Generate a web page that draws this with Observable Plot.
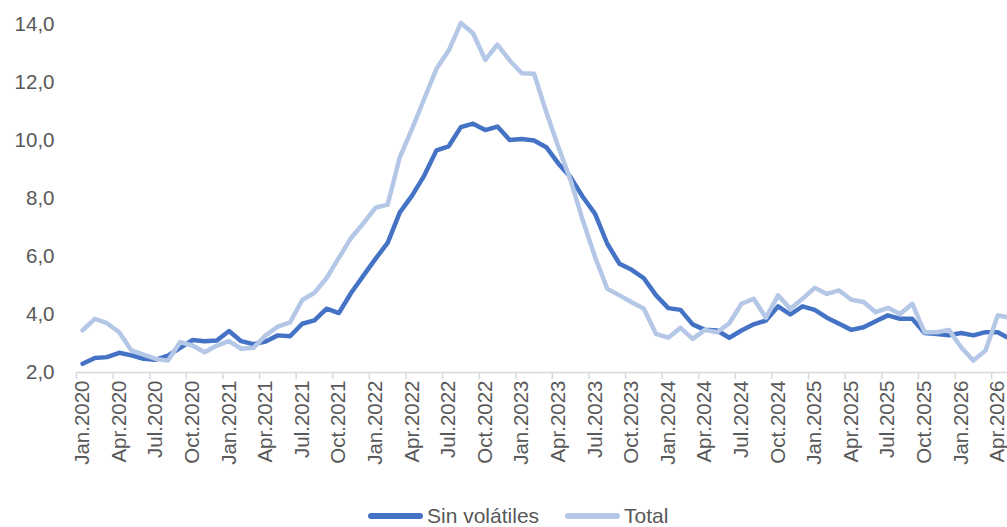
<!DOCTYPE html>
<html>
<head>
<meta charset="utf-8">
<script src="https://cdn.jsdelivr.net/npm/d3@7"></script>
<script src="https://cdn.jsdelivr.net/npm/@observablehq/plot@0.6"></script>
<style>
  html, body { margin: 0; padding: 0; background: #fff; }
  body { width: 1007px; height: 527px; overflow: hidden; position: relative; font-family: "Liberation Sans", Arial, sans-serif; }
  #chart { width: 1007px; overflow: hidden; }
  #legend { position: absolute; left: 368px; top: 504px; display: flex; align-items: center; color: #595959; font-size: 21px; }
  .sw { width: 55px; height: 6px; border-radius: 3px; margin-right: 4px; }
  .item { display: flex; align-items: center; margin-right: 26px; }
</style>
</head>
<body>
<div id="chart"></div>
<div id="legend"></div>
<script>
// Tick labels (one every 3 months, Jan.2020 .. Apr.2026)
const xTickLabels = ["Jan.2020","Apr.2020","Jul.2020","Oct.2020","Jan.2021","Apr.2021","Jul.2021","Oct.2021",
  "Jan.2022","Apr.2022","Jul.2022","Oct.2022","Jan.2023","Apr.2023","Jul.2023","Oct.2023",
  "Jan.2024","Apr.2024","Jul.2024","Oct.2024","Jan.2025","Apr.2025","Jul.2025","Oct.2025",
  "Jan.2026","Apr.2026"];
const yTicks = [2, 4, 6, 8, 10, 12, 14];
const seriesNames = ["Sin volátiles", "Total"];
const seriesColors = ["#4472C4", "#B4C7E7"];

// Monthly values, Jan.2020 .. May.2026
const sinVolatiles = [2.3,2.5,2.53,2.68,2.59,2.47,2.44,2.58,2.85,3.12,3.08,3.1,
  3.43,3.08,2.98,3.07,3.28,3.25,3.68,3.8,4.2,4.05,4.74,5.33,
  5.92,6.47,7.52,8.1,8.79,9.66,9.8,10.46,10.58,10.36,10.48,10.02,
  10.05,10.0,9.77,9.2,8.73,8.05,7.47,6.44,5.75,5.54,5.25,4.66,
  4.22,4.16,3.66,3.47,3.45,3.2,3.45,3.66,3.79,4.28,4.0,4.28,
  4.16,3.89,3.68,3.47,3.56,3.77,3.97,3.85,3.85,3.36,3.33,3.28,
  3.36,3.28,3.39,3.39,3.16];
const total = [3.45,3.85,3.7,3.39,2.76,2.62,2.47,2.41,3.05,2.93,2.7,2.93,
  3.08,2.82,2.85,3.28,3.58,3.73,4.5,4.75,5.26,5.95,6.64,7.14,
  7.68,7.79,9.43,10.4,11.44,12.47,13.1,14.05,13.7,12.78,13.31,12.76,
  12.32,12.3,10.98,9.77,8.62,7.24,5.98,4.89,4.66,4.42,4.2,3.33,
  3.2,3.54,3.16,3.47,3.39,3.7,4.37,4.54,3.89,4.66,4.2,4.54,
  4.92,4.71,4.83,4.51,4.43,4.08,4.23,4.02,4.37,3.39,3.39,3.47,
  2.87,2.41,2.76,3.97,3.89];

const rows = [];
sinVolatiles.forEach((v, i) => rows.push({i, v, s: seriesNames[0]}));
total.forEach((v, i) => rows.push({i, v, s: seriesNames[1]}));

const labelIdx = xTickLabels.map((_, k) => k * 3);
const boundaries = labelIdx.map(k => k - 0.5);

const chart = Plot.plot({
  width: 1007,
  height: 495,
  marginLeft: 76,
  marginRight: 0,
  marginTop: 24,
  marginBottom: 123,
  style: { fontFamily: "Liberation Sans, Arial, sans-serif", color: "#595959", background: "#fff" },
  x: { type: "linear", domain: [-0.5, 75.8], label: null },
  y: { domain: [2, 14], label: null },
  color: { domain: seriesNames, range: seriesColors },
  marks: [
    Plot.ruleY([2], { stroke: "#d9d9d9", strokeWidth: 1.5 }),
    Plot.axisX(boundaries, { tickSize: 7, stroke: "#d9d9d9", strokeWidth: 1.5, tickFormat: () => "", label: null }),
    Plot.axisX(labelIdx, { tickSize: 0, tickPadding: 8, tickRotate: -90, fontSize: 20.5, fill: "#595959",
      tickFormat: d => xTickLabels[d / 3], label: null }),
    Plot.axisY(yTicks, { tickSize: 0, tickPadding: 22, fontSize: 20.5, fill: "#595959",
      tickFormat: d => d.toFixed(1).replace(".", ","), label: null }),
    Plot.line(rows, { x: "i", y: "v", z: "s", stroke: "s", strokeWidth: 4.5,
      strokeLinejoin: "round", strokeLinecap: "round" })
  ]
});
document.getElementById("chart").appendChild(chart);

const legend = document.getElementById("legend");
seriesNames.forEach((name, k) => {
  const item = document.createElement("div");
  item.className = "item";
  const sw = document.createElement("div");
  sw.className = "sw";
  sw.style.background = seriesColors[k];
  const t = document.createElement("span");
  t.textContent = name;
  item.appendChild(sw);
  item.appendChild(t);
  legend.appendChild(item);
});
</script>
</body>
</html>
